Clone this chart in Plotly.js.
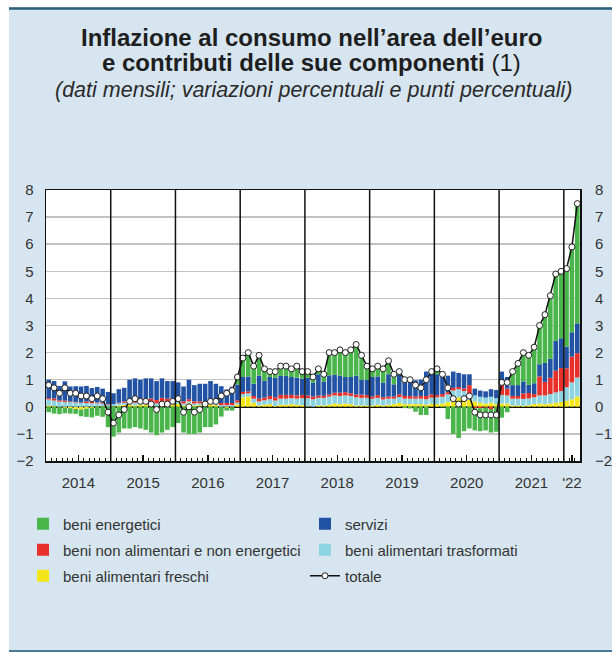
<!DOCTYPE html>
<html>
<head>
<meta charset="utf-8">
<script src="https://cdn.plot.ly/plotly-3.0.1.min.js"></script>
<style>
  html, body { margin: 0; padding: 0; background: #ffffff; }
  #plot { width: 612px; height: 652px; }
</style>
</head>
<body>
<div id="plot"></div>
<script>
// anni coperti dal grafico (mensile, gen 2014 - mar 2022)
var anni = [2014, 2015, 2016, 2017, 2018, 2019, 2020, 2021, 2022];
var mesiPerAnno = [12, 12, 12, 12, 12, 12, 12, 12, 3];
var etichetteAnni = ['2014', '2015', '2016', '2017', '2018', '2019', '2020', '2021', "'22"];

// contributi in punti percentuali
var beniEnergetici = [
    -0.20, -0.25, -0.25, -0.20, -0.20, -0.18, -0.25, -0.30, -0.35, -0.33, -0.37, -0.75,
    -1.10, -0.95, -0.80, -0.80, -0.75, -0.80, -0.85, -0.95, -1.05, -0.95, -0.85, -0.75,
    -0.60, -0.95, -1.00, -1.00, -0.95, -0.75, -0.75, -0.65, -0.35, -0.10, -0.12, 0.28,
    0.70, 0.88, 0.65, 0.75, 0.44, 0.20, 0.23, 0.36, 0.36, 0.30, 0.42, 0.26,
    0.23, 0.20, 0.20, 0.26, 0.84, 0.82, 0.95, 0.90, 1.00, 1.15, 0.90, 0.50,
    0.30, 0.38, 0.50, 0.50, 0.37, 0.12, -0.05, -0.06, -0.18, -0.30, -0.30, 0.02,
    0.20, -0.02, -0.45, -1.00, -1.15, -0.90, -0.80, -0.82, -0.85, -0.84, -0.87, -0.92,
    -0.40, -0.20, 0.50, 0.80, 1.06, 1.09, 1.33, 1.43, 1.78, 2.33, 2.47, 2.47,
    2.88, 3.15, 4.42
];
var servizi = [
    0.68, 0.64, 0.53, 0.71, 0.55, 0.58, 0.59, 0.57, 0.51, 0.57, 0.52, 0.45,
    0.40, 0.50, 0.50, 0.72, 0.78, 0.70, 0.75, 0.75, 0.70, 0.72, 0.65, 0.65,
    0.60, 0.55, 0.72, 0.60, 0.65, 0.65, 0.72, 0.65, 0.62, 0.50, 0.60, 0.58,
    0.55, 0.55, 0.45, 0.85, 0.62, 0.70, 0.72, 0.70, 0.70, 0.66, 0.66, 0.60,
    0.65, 0.52, 0.79, 0.53, 0.70, 0.66, 0.63, 0.56, 0.60, 0.70, 0.55, 0.57,
    0.72, 0.69, 0.55, 0.82, 0.45, 0.72, 0.65, 0.66, 0.60, 0.60, 0.90, 0.82,
    0.77, 0.75, 0.61, 0.60, 0.52, 0.52, 0.40, 0.25, 0.23, 0.23, 0.28, 0.30,
    0.49, 0.43, 0.40, 0.40, 0.45, 0.30, 0.40, 0.45, 0.70, 0.70, 1.10, 1.10,
    0.80, 0.90, 1.10
];
var nonAlimentari = [
    0.05, 0.08, 0.05, 0.05, 0.03, 0.02, 0.02, 0.06, 0.05, 0.03, 0.03, 0.02,
    0.00, 0.02, 0.05, 0.10, 0.12, 0.12, 0.12, 0.12, 0.12, 0.12, 0.10, 0.10,
    0.10, 0.08, 0.08, 0.08, 0.07, 0.07, 0.07, 0.08, 0.08, 0.08, 0.08, 0.08,
    0.08, 0.07, 0.10, 0.10, 0.10, 0.12, 0.12, 0.14, 0.14, 0.12, 0.12, 0.12,
    0.10, 0.10, 0.08, 0.08, 0.08, 0.10, 0.12, 0.12, 0.10, 0.10, 0.12, 0.10,
    0.08, 0.10, 0.08, 0.08, 0.08, 0.10, 0.10, 0.10, 0.08, 0.10, 0.12, 0.12,
    0.08, 0.10, 0.08, 0.10, 0.08, 0.10, 0.30, -0.05, -0.05, -0.03, -0.08, 0.00,
    0.37, 0.25, 0.10, 0.10, 0.20, 0.20, 0.12, 0.70, 0.50, 0.60, 0.80, 0.85,
    0.70, 0.95, 0.90
];
var alimentariTrasformati = [
    0.22, 0.20, 0.19, 0.18, 0.17, 0.16, 0.14, 0.14, 0.13, 0.11, 0.10, 0.08,
    0.08, 0.08, 0.08, 0.10, 0.10, 0.10, 0.10, 0.10, 0.10, 0.10, 0.10, 0.10,
    0.08, 0.07, 0.07, 0.07, 0.07, 0.07, 0.06, 0.06, 0.06, 0.06, 0.06, 0.07,
    0.12, 0.12, 0.15, 0.15, 0.16, 0.18, 0.20, 0.22, 0.22, 0.22, 0.22, 0.26,
    0.30, 0.28, 0.28, 0.28, 0.30, 0.30, 0.30, 0.30, 0.30, 0.30, 0.28, 0.28,
    0.25, 0.25, 0.22, 0.22, 0.20, 0.22, 0.20, 0.20, 0.20, 0.20, 0.20, 0.22,
    0.25, 0.25, 0.28, 0.30, 0.30, 0.28, 0.25, 0.22, 0.22, 0.22, 0.22, 0.22,
    0.32, 0.30, 0.25, 0.25, 0.25, 0.25, 0.25, 0.30, 0.32, 0.35, 0.38, 0.40,
    0.50, 0.62, 0.70
];
var alimentariFreschi = [
    0.05, 0.03, -0.02, -0.04, -0.05, -0.08, -0.10, -0.07, -0.04, 0.02, 0.02, 0.00,
    0.02, 0.05, 0.07, 0.08, 0.05, 0.08, 0.08, 0.08, 0.03, 0.11, 0.10, 0.10,
    0.12, 0.05, 0.13, 0.05, 0.06, 0.06, 0.10, 0.06, -0.01, -0.04, -0.02, 0.09,
    0.35, 0.38, 0.15, 0.05, 0.08, 0.10, 0.03, 0.08, 0.08, 0.10, 0.08, 0.06,
    0.02, 0.00, 0.05, 0.05, 0.08, 0.12, 0.10, 0.12, 0.10, 0.05, 0.05, 0.05,
    0.05, 0.08, 0.05, 0.08, 0.10, 0.14, 0.10, 0.10, 0.10, 0.10, 0.08, 0.12,
    0.10, 0.12, 0.18, 0.30, 0.35, 0.30, 0.25, 0.20, 0.15, 0.12, 0.15, 0.10,
    0.12, 0.12, 0.05, 0.05, 0.04, 0.06, 0.10, 0.12, 0.10, 0.12, 0.15, 0.18,
    0.22, 0.28, 0.38
];
// inflazione totale, variazioni percentuali sui 12 mesi
var totale = [
    0.8, 0.7, 0.5, 0.7, 0.5, 0.5, 0.4, 0.4, 0.3, 0.4, 0.3, -0.2,
    -0.6, -0.3, -0.1, 0.2, 0.3, 0.2, 0.2, 0.1, -0.1, 0.1, 0.1, 0.2,
    0.3, -0.2, 0.0, -0.2, -0.1, 0.1, 0.2, 0.2, 0.4, 0.5, 0.6, 1.1,
    1.8, 2.0, 1.5, 1.9, 1.4, 1.3, 1.3, 1.5, 1.5, 1.4, 1.5, 1.3,
    1.3, 1.1, 1.4, 1.2, 2.0, 2.0, 2.1, 2.0, 2.1, 2.3, 1.9, 1.5,
    1.4, 1.5, 1.4, 1.7, 1.2, 1.3, 1.0, 1.0, 0.8, 0.7, 1.0, 1.3,
    1.4, 1.2, 0.7, 0.3, 0.1, 0.3, 0.4, -0.2, -0.3, -0.3, -0.3, -0.3,
    0.9, 0.9, 1.3, 1.6, 2.0, 1.9, 2.2, 3.0, 3.4, 4.1, 4.9, 5.0,
    5.1, 5.9, 7.5
];

// indice dei mesi, centro di ogni anno e inizio di ogni anno
var mesi = [];
var centriAnni = [];
var inizioAnni = [];
anni.forEach(function (anno, k) {
    var primo = mesi.length;
    for (var m = 0; m < mesiPerAnno[k]; m++) mesi.push(mesi.length);
    centriAnni.push((primo + mesi.length - 1) / 2);
    if (k > 0) inizioAnni.push(primo - 0.5);
});

// area del grafico in pixel
var W = 612, H = 652;
var L = 46, R = 32, T = 190, B = 191;
function px(p) { return (p - L) / (W - L - R); }
function py(p) { return (H - B - p) / (H - T - B); }

var famiglia = 'Liberation Sans, Arial, sans-serif';
var fontBase = { family: famiglia, size: 15, color: '#333333' };

function barre(nome, valori, colore, legenda, rank) {
    return {
        type: 'bar', name: nome, x: mesi, y: valori,
        marker: { color: colore, line: { width: 0 } },
        legend: legenda, legendrank: rank
    };
}

var data = [
    barre('beni alimentari freschi', alimentariFreschi, '#f2e51a', 'legend5', 5),
    barre('beni alimentari trasformati', alimentariTrasformati, '#8dd4e2', 'legend4', 4),
    barre('beni non alimentari e non energetici', nonAlimentari, '#e8302a', 'legend3', 3),
    barre('servizi', servizi, '#2152a3', 'legend2', 2),
    barre('beni energetici', beniEnergetici, '#49b54a', 'legend', 1),
    {
        type: 'scatter', mode: 'lines+markers', name: 'totale',
        x: mesi, y: totale, yaxis: 'y2',
        line: { color: '#111111', width: 1.5 },
        marker: { symbol: 'circle', size: 6, color: '#ffffff', line: { color: '#222222', width: 1 } },
        legend: 'legend6', legendrank: 6
    }
];

var separatori = inizioAnni.map(function (x) {
    return {
        type: 'line', xref: 'x', yref: 'paper', x0: x, x1: x, y0: 0, y1: 1,
        line: { color: '#111111', width: 1.5 }, layer: 'above'
    };
});

var cornice = [
    { type: 'rect', xref: 'paper', yref: 'paper', x0: px(0), x1: px(9), y0: py(H), y1: py(0),
      fillcolor: '#ffffff', line: { width: 0 }, layer: 'above' },
    { type: 'rect', xref: 'paper', yref: 'paper', x0: px(0), x1: px(W), y0: py(7), y1: py(0),
      fillcolor: '#ffffff', line: { width: 0 }, layer: 'above' },
    { type: 'line', xref: 'paper', yref: 'paper', x0: px(9), x1: px(W), y0: py(8.5), y1: py(8.5),
      line: { color: '#2a5d7a', width: 2.5 }, layer: 'above' },
    { type: 'line', xref: 'paper', yref: 'paper', x0: px(9), x1: px(W), y0: py(651), y1: py(651),
      line: { color: '#4a7a98', width: 2 }, layer: 'above' }
];

// una legenda per voce, su due colonne
function legenda(xPix, yPix) {
    return {
        orientation: 'v', x: px(xPix), xanchor: 'left', y: py(yPix), yanchor: 'middle',
        bgcolor: 'rgba(0,0,0,0)', font: fontBase
    };
}

var assiY = {
    range: [-2, 8], tickmode: 'linear', tick0: -2, dtick: 1,
    tickfont: fontBase, ticks: '', ticklabelstandoff: 8, fixedrange: true
};

var layout = {
    width: W, height: H, autosize: false,
    margin: { l: L, r: R, t: T, b: B },
    paper_bgcolor: '#d6e5f0', plot_bgcolor: '#ffffff',
    barmode: 'relative', bargap: 0.15,
    showlegend: true,
    legend: legenda(23, 524), legend2: legenda(305, 524),
    legend3: legenda(23, 550), legend4: legenda(305, 550),
    legend5: legenda(23, 576), legend6: legenda(305, 576),
    xaxis: {
        range: [-0.5, mesi.length - 0.5], tickmode: 'array',
        tickvals: centriAnni, ticktext: etichetteAnni, tickfont: fontBase,
        ticks: 'inside', ticklen: 6, tickwidth: 1.5, tickcolor: '#111111',
        ticklabelstandoff: 7,
        minor: { tickmode: 'linear', tick0: -0.5, dtick: 1, ticks: 'inside', ticklen: 3, tickwidth: 1, tickcolor: '#111111', showgrid: false },
        showgrid: false, zeroline: false,
        showline: true, mirror: true, linecolor: '#111111', linewidth: 1.5, fixedrange: true
    },
    yaxis: Object.assign({}, assiY, {
        showgrid: true, gridcolor: '#c2c2c2', gridwidth: 1.5,
        zeroline: true, zerolinecolor: '#111111', zerolinewidth: 2,
        showline: true, mirror: true, linecolor: '#111111', linewidth: 1.5
    }),
    yaxis2: Object.assign({}, assiY, {
        overlaying: 'y', side: 'right', showgrid: false, zeroline: false, showline: false,
        ticklabelstandoff: 14
    }),
    shapes: separatori.concat(cornice),
    annotations: [
        {
            xref: 'paper', yref: 'paper', x: px(311), y: py(37), xanchor: 'center', yanchor: 'middle',
            showarrow: false, text: '<b>Inflazione al consumo nell’area dell’euro</b>',
            font: { family: famiglia, size: 24, color: '#1e1e1e' }
        },
        {
            xref: 'paper', yref: 'paper', x: px(311), y: py(63), xanchor: 'center', yanchor: 'middle',
            showarrow: false, text: '<b>e contributi delle sue componenti</b> (1)',
            font: { family: famiglia, size: 24, color: '#1e1e1e' }
        },
        {
            xref: 'paper', yref: 'paper', x: px(313), y: py(90), xanchor: 'center', yanchor: 'middle',
            showarrow: false,
            text: '<i>(dati mensili; variazioni percentuali e punti percentuali)</i>',
            font: { family: famiglia, size: 21.5, color: '#2a2a2a' }
        }
    ],
    hovermode: false
};

Plotly.newPlot('plot', data, layout, { displayModeBar: false, staticPlot: true });
</script>
</body>
</html>
